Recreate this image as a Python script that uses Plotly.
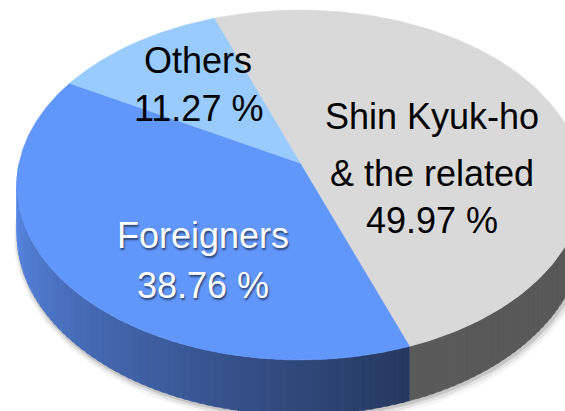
import numpy as np
import plotly.graph_objects as go

# Shareholder structure
names = ["Shin Kyuk-ho & the related", "Foreigners", "Others"]
label_lines = [["Shin Kyuk-ho", "& the related"], ["Foreigners"], ["Others"]]
shares = [49.97, 38.76, 11.27]

# Styling per slice
top_colors = ["#d9d9d9", "#6197fb", "#99cbfe"]
side_colors = [("#5a5a5a", "#575757"), ("#5e8ff2", "#25385f"), ("#7aa6d8", "#5c86b8")]
label_colors = ["black", "white", "black"]
label_x = [432, 203, 198]
label_baselines = [[128, 185, 232], [247, 297], [72, 120]]

# Perspective disc geometry (pixel space)
CX, CY = 300.0, 163.0
A, B = 280.8, 172.2
K = 0.1257
DEPTH = 48.0
START = 110.0


def proj(theta_deg, z=0.0):
    t = np.radians(theta_deg)
    u, v = np.cos(t), np.sin(t)
    w = 1 + K * v
    return CX + A * u / w, CY + (-B * v + DEPTH * z) / w


def hex_rgb(h):
    h = h.lstrip("#")
    return np.array([int(h[i:i + 2], 16) for i in (0, 2, 4)], dtype=float)


def mix(c1, c2, f):
    c = hex_rgb(c1) * (1 - f) + hex_rgb(c2) * f
    return "rgb(%d,%d,%d)" % tuple(np.round(c).astype(int))


fig = go.Figure()

# slice angular bounds, clockwise from START
total = sum(shares)
bounds = []
cursor = START
for s in shares:
    span = 360.0 * s / total
    bounds.append((cursor - span, cursor))
    cursor -= span

# soft drop shadow along the bottom rim
rim = np.linspace(176, 364, 200)
rx, ry = proj(rim, 1.0)
for width, alpha, dx, dy in [(12, 0.04, 2.5, 3.5), (8, 0.07, 2.0, 2.5), (4, 0.12, 1.5, 1.5)]:
    fig.add_trace(go.Scatter(x=rx + dx, y=ry + dy, mode="lines",
                             line=dict(color=f"rgba(0,0,0,{alpha})", width=width),
                             hoverinfo="skip", showlegend=False))

# side walls (front half of the disc), shaded in thin overlapping strips
for i, (lo, hi) in enumerate(bounds):
    for m in (-1, 0, 1):
        a = max(lo, 180 + 360 * m)
        b = min(hi, 360 + 360 * m)
        if b <= a:
            continue
        n = max(1, int(np.ceil((b - a) / 1.5)))
        edges = np.linspace(a, b, n + 1)
        for j in range(n):
            end = min(edges[j + 1] + 0.6, b)
            th = np.linspace(edges[j], end, 4)
            tx, ty = proj(th, 0.0)
            bx, by = proj(th[::-1], 1.0)
            f = (j + 0.5) / n
            col = mix(side_colors[i][0], side_colors[i][1], f)
            fig.add_trace(go.Scatter(
                x=np.concatenate([tx, bx, tx[:1]]),
                y=np.concatenate([ty, by, ty[:1]]),
                mode="lines", fill="toself", fillcolor=col,
                line=dict(color=col, width=0.5),
                hoverinfo="skip", showlegend=False))

# top face slices
for i, (lo, hi) in enumerate(bounds):
    th = np.linspace(hi, lo, 200)
    ax, ay = proj(th, 0.0)
    fig.add_trace(go.Scatter(
        x=np.concatenate([[CX], ax, [CX]]),
        y=np.concatenate([[CY], ay, [CY]]),
        mode="lines", fill="toself", fillcolor=top_colors[i],
        line=dict(color=top_colors[i], width=0.6),
        name=names[i], hoverinfo="name", showlegend=False))

# labels
annotations = []
for i, lines in enumerate(label_lines):
    texts = lines + [f"{shares[i]:.2f} %"]
    for txt, base in zip(texts, label_baselines[i]):
        font = dict(family="Liberation Sans, Arial, sans-serif", size=36,
                    color=label_colors[i])
        if label_colors[i] == "white":
            font["shadow"] = "1px 2px 2px rgba(0,0,0,0.55)"
        annotations.append(dict(x=label_x[i], y=base - 12, text=txt,
                                xref="x", yref="y", showarrow=False,
                                xanchor="center", yanchor="middle", font=font))

fig.update_layout(
    width=565, height=411,
    margin=dict(l=0, r=0, t=0, b=0),
    paper_bgcolor="white", plot_bgcolor="white",
    xaxis=dict(range=[0, 565], visible=False, fixedrange=True),
    yaxis=dict(range=[411, 0], visible=False, fixedrange=True),
    annotations=annotations,
    showlegend=False,
)

fig.write_html("out.html")
